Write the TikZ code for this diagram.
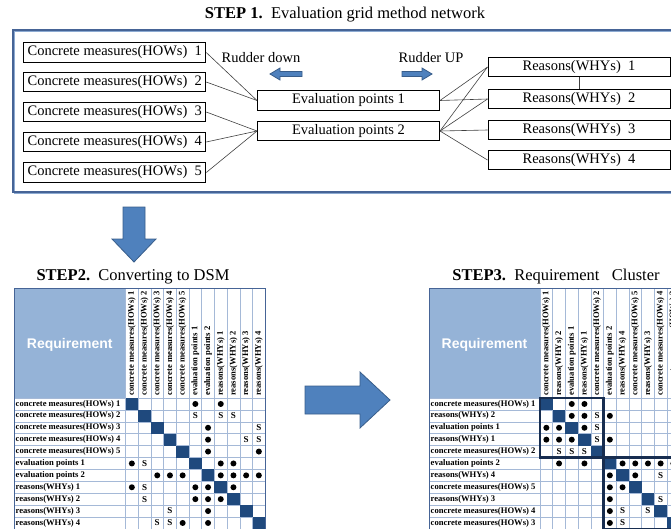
\documentclass[tikz,border=0pt]{standalone}
\usepackage{fontspec}
\setmainfont{Liberation Serif}
\setsansfont{Liberation Sans}
\usepackage{tikz}
\definecolor{reqblue}{RGB}{149,179,215}
\definecolor{gridblue}{RGB}{165,185,215}
\definecolor{framedark}{RGB}{70,100,150}
\definecolor{framelight}{RGB}{140,170,210}
\definecolor{diagblue}{RGB}{31,73,125}
\definecolor{clusternavy}{RGB}{23,45,80}
\definecolor{arrowblue}{RGB}{79,129,189}
\definecolor{arrowedge}{RGB}{56,93,138}
\tikzset{gridbox/.style={draw=black, line width=1pt, minimum width=182pt, minimum height=19.5pt, inner sep=0pt, font=\fontsize{14.5}{16}\selectfont}}
\tikzset{link/.style={draw=black!75, line width=0.6pt}}
\tikzset{steptitle/.style={inner sep=0pt, font=\fontsize{16.5}{18}\selectfont}}
\tikzset{ruddertext/.style={inner sep=0pt, font=\fontsize{14.5}{16}\selectfont}}
\tikzset{blockarrow/.style={fill=arrowblue, draw=arrowedge, line width=0.8pt}}
\tikzset{gridline/.style={draw=gridblue, line width=0.6pt}}
\tikzset{dsmframe/.style={draw=framedark, line width=0.8pt}}
\tikzset{diagcell/.style={fill=diagblue}}
\tikzset{reqtext/.style={text=white, font=\sffamily\bfseries\fontsize{14}{16}\selectfont}}
\tikzset{rowlabel/.style={anchor=west, inner sep=0pt, font=\bfseries\fontsize{8.6}{9}\selectfont}}
\tikzset{collabel/.style={rotate=90, anchor=west, inner sep=0pt, font=\bfseries\fontsize{8.6}{9}\selectfont}}
\tikzset{strong/.style={circle, fill=black, inner sep=0pt, minimum size=6pt}}
\tikzset{weak/.style={inner sep=0pt, font=\bfseries\fontsize{9}{9}\selectfont}}
\tikzset{cluster/.style={draw=clusternavy, line width=2.5pt}}

\begin{document}
\begin{tikzpicture}[x=1pt,y=-1pt]
% step 1 network, then the two DSM tables
\useasboundingbox (0,0) rectangle (671,528);
\clip (0,0) rectangle (671,528);
\node (t1) at (345,15)[steptitle]{\textbf{STEP 1.}\ \ Evaluation grid method network};
\draw[draw=framelight, line width=1.2pt] (14.2,31.2) rectangle (681,193.2);
\draw[draw=framedark, line width=1.2pt] (13,30) rectangle (680,192);
\node (how1) at (114.75,52.5)[gridbox]{Concrete measures(HOWs)~~1};
\node (how2) at (114.75,82)[gridbox]{Concrete measures(HOWs)~~2};
\node (how3) at (114.75,112)[gridbox]{Concrete measures(HOWs)~~3};
\node (how4) at (114.75,142)[gridbox]{Concrete measures(HOWs)~~4};
\node (how5) at (114.75,172.5)[gridbox]{Concrete measures(HOWs)~~5};
\node (ev1) at (348.5,100.5)[gridbox]{Evaluation points 1};
\node (ev2) at (348.5,131)[gridbox]{Evaluation points 2};
\node (why1) at (579,67)[gridbox]{Reasons(WHYs)~~1};
\node (why2) at (579,99)[gridbox]{Reasons(WHYs)~~2};
\node (why3) at (579,130)[gridbox]{Reasons(WHYs)~~3};
\node (why4) at (579,160)[gridbox]{Reasons(WHYs)~~4};
\draw[link] (how1.east)--(ev1.west);
\draw[link] (how2.east)--(ev1.west);
\draw[link] (how3.east)--(ev2.west);
\draw[link] (how4.east)--(ev2.west);
\draw[link] (how5.east)--(ev2.west);
\draw[link] (ev1.east)--(why1.west);
\draw[link] (ev1.east)--(why2.west);
\draw[link] (ev2.east)--(why1.west);
\draw[link] (ev2.east)--(why2.west);
\draw[link] (ev2.east)--(why3.west);
\draw[link] (ev2.east)--(why4.west);
\draw[link] (why1.south)--(why2.north);
\node (down) at (261,58)[ruddertext]{Rudder down};
\node (up) at (431,58)[ruddertext]{Rudder UP};
\draw[blockarrow] (270,74)--(280,68)--(280,71.5)--(302,71.5)--(302,76.5)--(280,76.5)--(280,80)--cycle;
\draw[blockarrow] (432,74)--(422,68)--(422,71.5)--(402,71.5)--(402,76.5)--(422,76.5)--(422,80)--cycle;
\draw[blockarrow] (123,207)--(145,207)--(145,239)--(156,239)--(134,262)--(112,239)--(123,239)--cycle;
\draw[blockarrow] (305,386)--(360,386)--(360,372)--(390,400)--(360,428)--(360,414)--(305,414)--cycle;
\node (t2) at (133,277)[steptitle]{\textbf{STEP2.}\ \ Converting to DSM};
\node (t3) at (556,277)[steptitle]{\textbf{STEP3.}\ \ Requirement\ \ \ Cluster};
% left DSM
\begin{scope}[shift={(14,288)}]
\fill[reqblue] (0,0) rectangle (111.5,110);
\node (reqL) at (55.75,57)[reqtext]{Requirement};
\foreach \r in {0,...,11}
  \draw[gridline] (0,110+\r*11.9) -- (251.2,110+\r*11.9);
\foreach \c in {0,...,11}
  \draw[gridline] (111.5+\c*12.7,0) -- (111.5+\c*12.7,240.9);
\foreach \k in {1,...,11}
  \fill[diagcell] (98.8+\k*12.7,98.1+\k*11.9) rectangle +(12.7,11.9);
\foreach \lab [count=\r] in {concrete measures(HOWs) 1,concrete measures(HOWs) 2,concrete measures(HOWs) 3,concrete measures(HOWs) 4,concrete measures(HOWs) 5,evaluation points 1,evaluation points 2,reasons(WHYs) 1,reasons(WHYs) 2,reasons(WHYs) 3,reasons(WHYs) 4}{
  \node (Lrow\r) at (1.5,104.05+\r*11.9)[rowlabel]{\lab};
  \node (Lcol\r) at (105.15+\r*12.7,108)[collabel]{\lab};
}
\draw[dsmframe] (0,0) rectangle (251.2,240.9);
\foreach \r/\c in {1/6,1/8,3/7,4/7,5/7,5/11,6/1,6/8,6/9,7/3,7/4,7/5,7/8,7/9,7/10,7/11,8/1,8/6,8/7,8/9,9/6,9/7,9/8,10/7,11/5,11/7}
  \node (Ld\r-\c) at (105.15+\c*12.7,104.05+\r*11.9)[strong]{};
\foreach \r/\c in {2/6,2/8,2/9,3/11,4/10,4/11,6/2,8/2,9/2,10/4,11/3,11/4}
  \node (Ls\r-\c) at (105.15+\c*12.7,104.05+\r*11.9)[weak]{S};
\end{scope}
% right DSM, reordered
\begin{scope}[shift={(429,288)}]
\fill[reqblue] (0,0) rectangle (111,110);
\node (reqR) at (55.5,57)[reqtext]{Requirement};
\foreach \r in {0,...,11}
  \draw[gridline] (0,110+\r*11.9) -- (250.7,110+\r*11.9);
\foreach \c in {0,...,11}
  \draw[gridline] (111+\c*12.7,0) -- (111+\c*12.7,240.9);
\foreach \k in {1,...,11}
  \fill[diagcell] (98.3+\k*12.7,98.1+\k*11.9) rectangle +(12.7,11.9);
\foreach \lab [count=\r] in {concrete measures(HOWs) 1,reasons(WHYs) 2,evaluation points 1,reasons(WHYs) 1,concrete measures(HOWs) 2,evaluation points 2,reasons(WHYs) 4,concrete measures(HOWs) 5,reasons(WHYs) 3,concrete measures(HOWs) 4,concrete measures(HOWs) 3}{
  \node (Rrow\r) at (1.5,104.05+\r*11.9)[rowlabel]{\lab};
  \node (Rcol\r) at (104.65+\r*12.7,108)[collabel]{\lab};
}
\draw[dsmframe] (0,0) rectangle (250.7,240.9);
\foreach \r/\c in {1/3,1/4,2/3,2/4,2/6,3/1,3/2,3/4,4/1,4/2,4/3,4/6,6/2,6/4,6/7,6/8,6/9,6/10,6/11,7/6,7/8,8/6,8/7,9/6,10/6,11/6}
  \node (Rd\r-\c) at (104.65+\c*12.7,104.05+\r*11.9)[strong]{};
\foreach \r/\c in {2/5,3/5,4/5,5/2,5/3,5/4,7/10,7/11,9/10,10/7,10/9,11/7}
  \node (Rs\r-\c) at (104.65+\c*12.7,104.05+\r*11.9)[weak]{S};
\draw[cluster] (111,110) rectangle (174.5,169.5);
\draw[cluster] (174.5,169.5) rectangle (250.7,240.9);
\end{scope}
\end{tikzpicture}
\end{document}
